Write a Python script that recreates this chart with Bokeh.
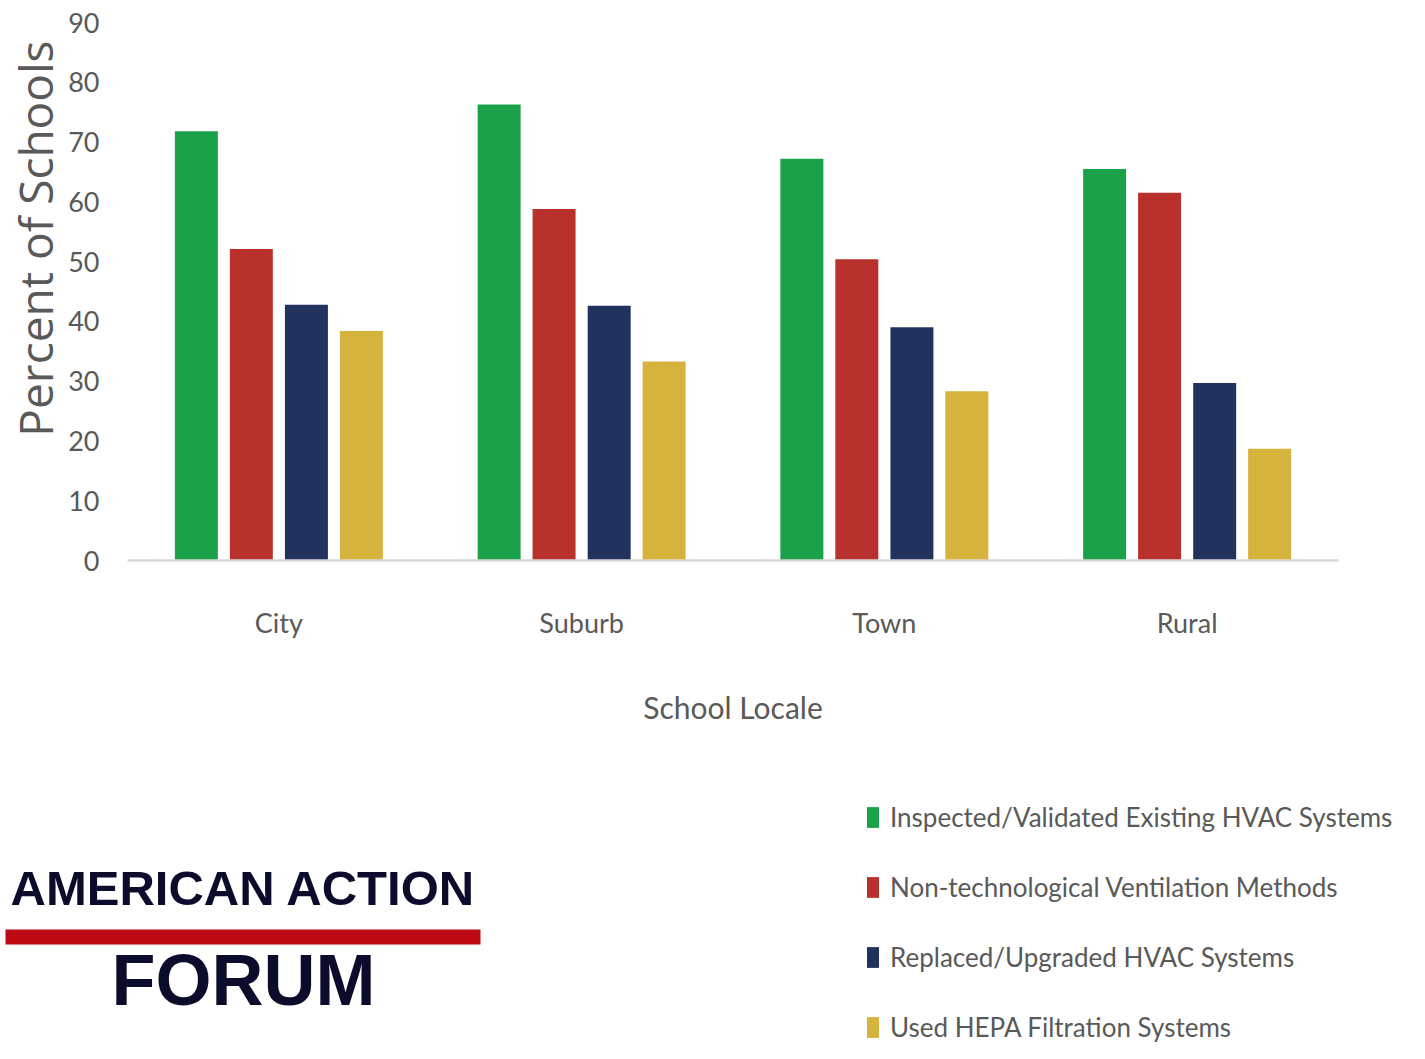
from bokeh.plotting import figure
from bokeh.layouts import column
from bokeh.models import (FactorRange, Range1d, FixedTicker, Legend, LegendItem,
                          Label, BoxAnnotation, Title)
from bokeh.transform import dodge
from bokeh.embed import file_html
from bokeh.resources import INLINE

# ---------------- data ----------------
categories = ["City", "Suburb", "Town", "Rural"]
series_names = [
    "Inspected/Validated Existing HVAC Systems",
    "Non-technological Ventilation Methods",
    "Replaced/Upgraded HVAC Systems",
    "Used HEPA Filtration Systems",
]
inspected = [71.8, 76.3, 67.2, 65.5]
non_technological = [52.1, 58.8, 50.4, 61.5]
replaced = [42.8, 42.6, 39.0, 29.7]
hepa = [38.4, 33.3, 28.3, 18.7]
y_ticks = [0, 10, 20, 30, 40, 50, 60, 70, 80, 90]
x_title = "School Locale"
y_title = "Percent of Schools"
logo_top = "AMERICAN ACTION"
logo_bottom = "FORUM"

# ---------------- style ----------------
colors = ["#1BA14A", "#B9312C", "#22325F", "#D5B33D"]
offsets = [-0.2725, -0.091, 0.091, 0.2725]
BAR_W = 0.142
NARROW = "Lato"
TXT = "#595959"
LOGO_INK = "#0B0B2B"

W = 1409
H_TOP = 760
H_BOT = 283

series = [inspected, non_technological, replaced, hepa]

# ---------------- chart ----------------
p = figure(width=W, height=H_TOP,
           x_range=FactorRange(*categories, range_padding=0),
           y_range=Range1d(0, 90),
           output_backend="svg", toolbar_location=None,
           min_border_left=127, min_border_right=71,
           min_border_top=22, min_border_bottom=H_TOP - 560)
p.frame_align = False

source = dict(cat=categories, s0=inspected, s1=non_technological, s2=replaced, s3=hepa)
for i, key in enumerate(["s0", "s1", "s2", "s3"]):
    p.vbar(x=dodge("cat", offsets[i], range=p.x_range), top=key, width=BAR_W,
           source=source, fill_color=colors[i], line_color=None)

p.outline_line_color = None
p.xgrid.grid_line_color = None
p.ygrid.grid_line_color = None
p.background_fill_color = "white"
p.border_fill_color = "white"

# y axis
yax = p.yaxis[0]
yax.ticker = FixedTicker(ticks=y_ticks)
yax.axis_line_color = None
yax.major_tick_line_color = None
yax.minor_tick_line_color = None
yax.major_tick_out = 0
yax.minor_tick_out = 0
yax.major_label_standoff = 28
yax.major_label_text_font = NARROW
yax.major_label_text_font_size = "27px"
yax.major_label_text_color = TXT

p.add_layout(Title(text=y_title, align="right", offset=18,
                   text_font="Open Sans", text_font_size="46px",
                   text_font_style="normal", text_color=TXT, standoff=0), "left")

# x axis
xax = p.xaxis[0]
xax.axis_line_color = "#D9D9D9"
xax.axis_line_width = 2.5
xax.major_tick_line_color = None
xax.minor_tick_line_color = None
xax.major_tick_out = 0
xax.major_label_standoff = 45
xax.major_label_text_font = NARROW
xax.major_label_text_font_size = "27px"
xax.major_label_text_color = TXT
xax.axis_label = x_title
xax.axis_label_text_font = NARROW
xax.axis_label_text_font_size = "30px"
xax.axis_label_text_font_style = "normal"
xax.axis_label_text_color = TXT
xax.axis_label_standoff = 47

# ---------------- logo + legend strip ----------------
b = figure(width=W, height=H_BOT, x_range=Range1d(0, W), y_range=Range1d(0, H_BOT),
           output_backend="svg", toolbar_location=None,
           x_axis_location=None, y_axis_location=None,
           min_border=0, min_border_left=0, min_border_right=0,
           min_border_top=0, min_border_bottom=0)
b.frame_align = False
b.outline_line_color = None
b.xgrid.grid_line_color = None
b.ygrid.grid_line_color = None

# legend swatch renderers: zero-area bars built from the series (nothing visible in the strip)
swatches = []
for i, vals in enumerate(series):
    swatches.append(b.vbar(x=vals, top=vals, bottom=vals, width=0,
                           fill_color=colors[i], line_color=None))

legend = Legend(
    items=[LegendItem(label=n, renderers=[r]) for n, r in zip(series_names, swatches)],
    location=(865, 0),
    orientation="vertical",
    label_text_font=NARROW,
    label_text_font_size="26px",
    label_text_color=TXT,
    glyph_width=15, glyph_height=26,
    label_standoff=10,
    spacing=38,
    padding=0, margin=0,
    border_line_color=None,
    background_fill_alpha=0,
)
b.add_layout(legend)

b.add_layout(Label(x=10, y=156, text=logo_top, text_font="Liberation Sans",
                   text_font_style="bold", text_font_size="49px",
                   text_color=LOGO_INK, text_align="left",
                   text_baseline="alphabetic"))
b.add_layout(BoxAnnotation(left=5, right=480, bottom=99, top=114,
                           fill_color="#BE0A14", fill_alpha=1, line_color=None))
b.add_layout(Label(x=243, y=64, text=logo_bottom, text_font="Liberation Sans",
                   text_font_style="bold", text_font_size="72px",
                   text_color=LOGO_INK, text_align="center",
                   text_baseline="alphabetic"))

layout = column(p, b, spacing=0)
open("out.html", "w").write(file_html(layout, INLINE))
